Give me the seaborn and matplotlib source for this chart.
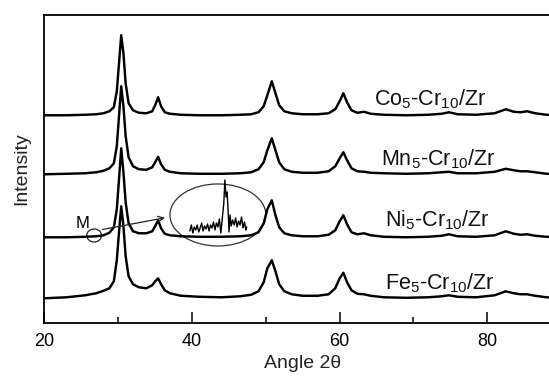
import numpy as np
import pandas as pd
import matplotlib
matplotlib.use('Agg')
import matplotlib.pyplot as plt
from matplotlib.patches import Ellipse
import seaborn as sns

# XRD patterns (intensity above each trace's own baseline)
two_theta = [20, 23, 25.5, 27, 28, 28.8, 29.4, 29.8, 30.1, 30.4, 30.7, 31.0, 31.4, 32.0, 32.8,
             33.8, 34.6, 35.0, 35.4, 35.8, 36.3, 37.0, 38.5, 41, 44, 46.5, 48, 49, 49.7, 50.2,
             50.8, 51.3, 51.8, 52.5, 53.5, 55, 57, 58.5, 59.4, 60.0, 60.5, 61.0, 61.6, 62.4, 63.3,
             64.2, 66, 69, 72, 73.8, 74.8, 76, 78.5, 81, 82.5, 83.6, 84.5, 85.4, 86.5, 88, 90]

co = [0, 0, 0.5, 1, 2, 4, 8, 24, 52, 80, 62, 32, 12, 5, 2.5,
      2, 4, 10, 18, 9, 3, 1.5, 0.5, 0, 0, 0.5, 1, 3, 9, 20,
      34, 22, 10, 4, 2, 1, 1, 2, 6, 14, 22, 13, 5, 2.5, 3.5,
      1.5, 0.5, 0, 0.5, 1.5, 3, 1, 0.5, 2, 6, 3.5, 3, 4, 2, 0.5, 0]
mn = [0, 0.5, 1, 2, 3.5, 6, 11, 28, 58, 88, 68, 38, 17, 8, 5,
      4.5, 7, 12, 17.5, 10, 4.5, 2.5, 1, 0.5, 0.5, 1, 2, 5, 12, 24,
      36, 24, 12, 5, 2.5, 1.5, 1.5, 3, 8, 16, 22, 14, 6, 3, 2.5,
      1.5, 1, 0.5, 1, 2, 2.5, 1, 1, 2.5, 5.5, 4, 3, 3, 2, 0.5, 0]
ni = [0, 0, 0.5, 1, 2, 4.5, 10, 28, 58, 89, 65, 35, 14, 6, 4,
      4, 6, 11, 17, 9, 3.5, 2, 1, 0.5, 0.5, 1, 2, 5, 14, 28,
      37, 22, 10, 4, 2, 1, 1, 2.5, 7, 16, 22, 13, 5, 3, 4,
      2, 0.5, 0, 0.5, 1.5, 3, 1, 0.5, 2, 6, 3.5, 2.5, 3, 1.5, 0.5, 0]
fe = [0, 1, 3, 5, 7.5, 10, 17, 38, 66, 92, 72, 42, 22, 14, 11,
      10, 13, 17, 20, 14, 8, 5, 2.5, 1.5, 1, 2, 3.5, 7, 16, 30,
      38, 27, 14, 7, 4, 2.5, 2.5, 4, 10, 20, 25.5, 16, 8, 4.5, 4,
      2.5, 1, 0.5, 1, 2, 3, 1.5, 1, 3, 7, 5, 4, 4, 2.5, 1, 0.5]

samples = ['Co', 'Mn', 'Ni', 'Fe']
offsets = [207.7, 148.7, 85.7, 24.7]
labels = [r'Co$_5$-Cr$_{10}$/Zr', r'Mn$_5$-Cr$_{10}$/Zr',
          r'Ni$_5$-Cr$_{10}$/Zr', r'Fe$_5$-Cr$_{10}$/Zr']
label_x = [64.7, 65.6, 66.1, 66.1]
label_y = [218, 158, 96.3, 34]

# magnified trace shown inside the ellipse (region marked M)
inset_x = [39.7, 39.9, 40.1, 40.3, 40.5, 40.7, 40.9, 41.1, 41.3, 41.5, 41.7, 41.9, 42.1, 42.3,
           42.5, 42.7, 42.9, 43.1, 43.3, 43.5, 43.7, 43.9, 44.1, 44.3, 44.45, 44.6, 44.75, 44.9,
           45.0, 45.15, 45.3, 45.5, 45.7, 45.9, 46.1, 46.3, 46.5, 46.7, 46.9, 47.1, 47.3, 47.4]
inset_y = [92, 98, 90, 96, 93, 98, 91, 95, 100, 92, 97, 94, 99, 92,
           98, 95, 101, 93, 100, 96, 104, 90, 105, 120, 143, 126, 131, 110,
           91, 108, 97, 103, 98, 105, 96, 102, 98, 106, 95, 101, 93, 96]

sns.set_style('ticks')
plt.rcParams['font.family'] = ['Liberation Sans', 'DejaVu Sans']
plt.rcParams['mathtext.fontset'] = 'custom'
plt.rcParams['mathtext.rm'] = 'Liberation Sans'
plt.rcParams['mathtext.it'] = 'Liberation Sans:italic'
plt.rcParams['text.color'] = 'black'
plt.rcParams['axes.labelcolor'] = '#222222'
plt.rcParams['axes.edgecolor'] = 'black'
plt.rcParams['xtick.color'] = 'black'

rows = []
for name, vals, off in zip(samples, [co, mn, ni, fe], offsets):
    for x, v in zip(two_theta, vals):
        rows.append({'angle': x, 'intensity': v + off, 'sample': name})
df = pd.DataFrame(rows)

fig = plt.figure(figsize=(5.49, 3.76), dpi=100)
ax = fig.add_axes([0.081, 0.141, 0.941, 0.820])

sns.lineplot(data=df, x='angle', y='intensity', hue='sample', palette=['black'] * 4,
             estimator=None, sort=False, legend=False, linewidth=1.75, ax=ax)

for lab, lx, ly in zip(labels, label_x, label_y):
    ax.text(lx, ly, lab, fontsize=15.5, va='baseline', ha='left', color='#111111')

# marked region and magnified view
ax.add_patch(Ellipse((26.73, 87.5), 2.0, 13, fill=False, lw=0.9, ec='#222222'))
ax.text(25.2, 99, 'M', fontsize=12, ha='center', va='center')
ax.annotate('', xy=(36.7, 105.7), xytext=(27.5, 93),
            arrowprops=dict(arrowstyle='->', lw=0.9, color='#222222'))
ax.add_patch(Ellipse((43.5, 108), 13, 62, fill=False, lw=0.9, ec='#333333'))
ax.plot(inset_x, inset_y, color='black', lw=1.0)

ax.set_xlim(20, 90)
ax.set_ylim(0, 308.3)
ax.set_xticks([20, 40, 60, 80])
ax.set_xticks([30, 50, 70], minor=True)
ax.set_yticks([])
ax.tick_params(axis='x', which='major', direction='in', length=8, width=1.1,
               labelsize=13, pad=7)
ax.tick_params(axis='x', which='minor', direction='in', length=4.5, width=1.1)
for s in ax.spines.values():
    s.set_linewidth(1.3)
ax.set_xlabel('Angle 2\u03b8', fontsize=14)
ax.set_ylabel('Intensity', fontsize=14, labelpad=10)

fig.savefig('out.png', dpi=100)
